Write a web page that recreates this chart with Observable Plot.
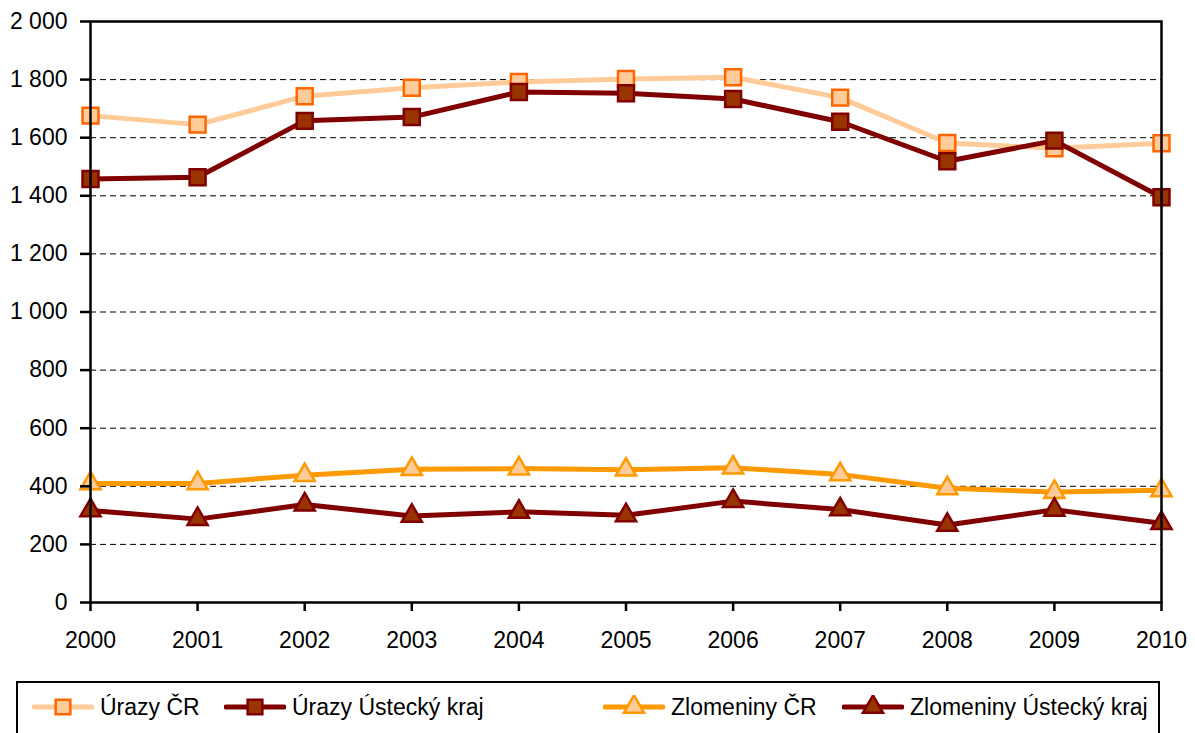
<!DOCTYPE html>
<html>
<head>
<meta charset="utf-8">
<script src="https://cdn.jsdelivr.net/npm/d3@7"></script>
<script src="https://cdn.jsdelivr.net/npm/@observablehq/plot@0.6"></script>
<style>
  html, body { margin: 0; padding: 0; background: #fff; }
  body { width: 1195px; height: 733px; overflow: hidden; position: relative; font-family: "Liberation Sans", Arial, sans-serif; }
  #chart { position: absolute; left: 0; top: 0; }
  #legend { position: absolute; left: 16px; top: 681px; width: 1144px; height: 70px; border: 2px solid #000; box-sizing: border-box; background: #fff; }
  .item { position: absolute; top: 12px; height: 24px; display: flex; align-items: center; white-space: nowrap; font-size: 23px; color: #000; }
  .item svg { margin-right: 6px; }
</style>
</head>
<body>
<div id="chart"></div>
<div id="legend"></div>
<script>
// ---- data ----
const years = [2000, 2001, 2002, 2003, 2004, 2005, 2006, 2007, 2008, 2009, 2010];
const urazyCR      = [1676, 1645, 1743, 1772, 1792, 1802, 1808, 1738, 1582, 1564, 1581];
const urazyUstecky = [1458, 1464, 1658, 1671, 1757, 1753, 1733, 1655, 1519, 1590, 1395];
const zlomCR       = [410, 410, 438, 459, 461, 457, 464, 441, 393, 380, 386];
const zlomUstecky  = [317, 287, 337, 298, 312, 300, 349, 320, 267, 319, 273];
const yTicks = [0, 200, 400, 600, 800, 1000, 1200, 1400, 1600, 1800, 2000];
const seriesNames = ["Úrazy ČR", "Úrazy Ústecký kraj", "Zlomeniny ČR", "Zlomeniny Ústecký kraj"];

const seriesStyle = [
  {name: seriesNames[0], values: urazyCR,      line: "#FFCC99", fill: "#FFCC99", stroke: "#FF6600", symbol: "square",   r: 9},
  {name: seriesNames[1], values: urazyUstecky, line: "#800000", fill: "#993300", stroke: "#800000", symbol: "square",   r: 9},
  {name: seriesNames[2], values: zlomCR,       line: "#FF9900", fill: "#FFCC99", stroke: "#FF9900", symbol: "triangle", r: 7.5},
  {name: seriesNames[3], values: zlomUstecky,  line: "#800000", fill: "#993300", stroke: "#800000", symbol: "triangle", r: 7.5}
];

const fmt = d => d3.format(",")(d).replace(/,/g, " ");

const marks = [
  Plot.ruleY(yTicks.filter(v => v > 0 && v < 2000), {stroke: "#000", strokeWidth: 1, strokeDasharray: "6,4"})
];
for (const s of seriesStyle) {
  const data = years.map((y, i) => ({year: y, value: s.values[i]}));
  marks.push(Plot.line(data, {x: "year", y: "value", stroke: s.line, strokeWidth: 5, strokeLinejoin: "round"}));
  marks.push(Plot.dot(data, {x: "year", y: "value", symbol: () => s.symbol, r: s.r, fill: s.fill, stroke: s.stroke, strokeWidth: 2.5}));
}
marks.push(Plot.frame({stroke: "#000", strokeWidth: 2.5}));
marks.push(Plot.axisY({ticks: yTicks, tickFormat: fmt, tickSize: 10, tickPadding: 13, strokeWidth: 2.5, label: null}));
marks.push(Plot.axisX({ticks: years, tickFormat: d => String(d), tickSize: 9, tickPadding: 20, strokeWidth: 2.5, label: null}));

const chart = Plot.plot({
  width: 1195,
  height: 670,
  marginLeft: 90,
  marginRight: 34,
  marginTop: 21,
  marginBottom: 68,
  x: {domain: [2000, 2010]},
  y: {domain: [0, 2000]},
  symbol: {type: "identity"},
  style: {fontSize: "23px", fontFamily: "'Liberation Sans', Arial, sans-serif", color: "#000", background: "#fff", overflow: "visible"},
  marks
});
document.getElementById("chart").appendChild(chart);

// ---- legend ----
const legend = document.getElementById("legend");
const itemLeft = [14, 206, 585, 824];
seriesStyle.forEach((s, i) => {
  const div = document.createElement("div");
  div.className = "item";
  div.style.left = itemLeft[i] + "px";
  const ns = "http://www.w3.org/2000/svg";
  const svg = document.createElementNS(ns, "svg");
  svg.setAttribute("width", 62); svg.setAttribute("height", 24);
  const ln = document.createElementNS(ns, "line");
  ln.setAttribute("x1", 2); ln.setAttribute("x2", 60); ln.setAttribute("y1", 12); ln.setAttribute("y2", 12);
  ln.setAttribute("stroke", s.line); ln.setAttribute("stroke-width", 5); ln.setAttribute("stroke-linecap", "round");
  svg.appendChild(ln);
  const sym = document.createElementNS(ns, "path");
  const sz = s.r * s.r * Math.PI;
  sym.setAttribute("d", d3.symbol(s.symbol === "square" ? d3.symbolSquare : d3.symbolTriangle, s.symbol === "square" ? sz * 0.85 : sz)());
  sym.setAttribute("transform", "translate(31,12)");
  sym.setAttribute("fill", s.fill); sym.setAttribute("stroke", s.stroke); sym.setAttribute("stroke-width", 2.5);
  svg.appendChild(sym);
  div.appendChild(svg);
  const t = document.createElement("span");
  t.textContent = s.name;
  div.appendChild(t);
  legend.appendChild(div);
});
</script>
</body>
</html>
